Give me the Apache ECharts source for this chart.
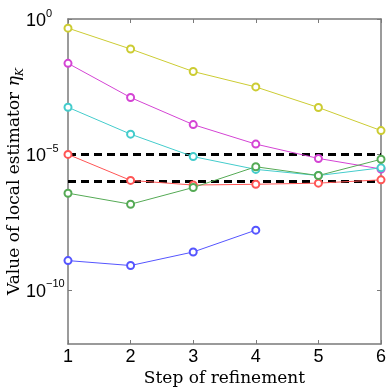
<!DOCTYPE html>
<html>
<head>
<meta charset="utf-8">
<script src="https://cdn.jsdelivr.net/npm/echarts@6/dist/echarts.min.js"></script>
<style>
  html, body { margin: 0; padding: 0; background: #fff; }
  #container { width: 390px; height: 390px; }
</style>
</head>
<body>
<div id="container"></div>
<script>
var steps = [1, 2, 3, 4, 5, 6];
var yellowVals  = [4.6e-1, 7.8e-2, 1.15e-2, 3.1e-3, 5.4e-4, 7.6e-5];
var magentaVals = [2.3e-2, 1.26e-3, 1.26e-4, 2.4e-5, 7.1e-6, 2.9e-6];
var cyanVals    = [5.5e-4, 5.6e-5, 8.3e-6, 2.8e-6, 1.66e-6, 3.2e-6];
var redVals     = [1.0e-5, 1.1e-6, 7.4e-7, 7.9e-7, 8.7e-7, 1.15e-6];
var greenVals   = [3.7e-7, 1.45e-7, 6.0e-7, 3.5e-6, 1.66e-6, 6.6e-6];
var blueVals    = [1.2e-9, 7.9e-10, 2.5e-9, 1.6e-8, null, null];
var upperTol    = [1e-5, 1e-5, 1e-5, 1e-5, 1e-5, 1e-5];
var lowerTol    = [1e-6, 1e-6, 1e-6, 1e-6, 1e-6, 1e-6];
var yTicks = [1e-10, 1e-5, 1];
var yTickLabels = {'1e-10': '\u221210', '0.00001': '\u22125', '1': '0'};

var dom = document.getElementById("container");
var myChart = echarts.init(dom);

function pairs(vals) {
    return steps.map(function (s, i) { return [s, vals[i]]; });
}

function curve(vals, color) {
    return {
        type: 'line',
        data: pairs(vals),
        symbol: 'emptyCircle',
        symbolSize: 7,
        showSymbol: true,
        connectNulls: false,
        lineStyle: { color: color, width: 1 },
        itemStyle: { color: color, borderColor: color, borderWidth: 0.7 },
        emphasis: { disabled: true },
        z: 3
    };
}

function tolLine(vals) {
    return {
        type: 'line',
        data: pairs(vals),
        symbol: 'none',
        lineStyle: { color: '#000', width: 3, type: [8, 5] },
        z: 2
    };
}

var axisGray = '#7a7a7a';
var serif = 'DejaVu Serif';

option = {
    animation: false,
    grid: { left: 68, top: 19, right: 9, bottom: 46, outerBoundsMode: 'none', containLabel: false },
    xAxis: [
        {
            type: 'value', min: 1, max: 6, interval: 1,
            name: 'Step of refinement',
            nameLocation: 'middle',
            nameGap: 26,
            nameMoveOverlap: false,
            nameTextStyle: { fontFamily: serif, fontSize: 17, color: '#000' },
            axisLine: { lineStyle: { color: axisGray, width: 1.5 } },
            axisTick: { inside: true, length: 4, lineStyle: { color: axisGray } },
            axisLabel: { fontFamily: 'Liberation Sans', fontSize: 18, color: '#000', margin: 4 },
            splitLine: { show: false }
        },
        {
            type: 'value', min: 1, max: 6, interval: 1, position: 'top',
            axisLine: { lineStyle: { color: axisGray, width: 1.5 } },
            axisTick: { inside: true, length: 4, lineStyle: { color: axisGray } },
            axisLabel: { show: false },
            splitLine: { show: false }
        }
    ],
    yAxis: [
        {
            type: 'log', logBase: 10, min: 1e-12, max: 1,
            name: '{t|Value of local estimator }{eta|\u03b7}{sub|K}',
            nameLocation: 'middle',
            nameRotate: 90,
            nameGap: 45,
            nameMoveOverlap: false,
            nameTextStyle: {
                color: '#000',
                rich: {
                    t: { fontFamily: serif, fontSize: 17, color: '#000', lineHeight: 22, verticalAlign: 'bottom' },
                    eta: { fontFamily: serif, fontStyle: 'italic', fontSize: 17, color: '#000', lineHeight: 22, verticalAlign: 'bottom' },
                    sub: { fontFamily: serif, fontStyle: 'italic', fontSize: 11, color: '#000', lineHeight: 22, verticalAlign: 'bottom', padding: [0, 0, -3, 0] }
                }
            },
            axisLine: { lineStyle: { color: axisGray, width: 1.5 } },
            axisTick: { inside: true, length: 4, customValues: yTicks, lineStyle: { color: axisGray } },
            axisLabel: {
                customValues: yTicks,
                margin: 42,
                align: 'left',
                formatter: function (v) {
                    var key = String(v);
                    var e = yTickLabels[key];
                    if (e === undefined) e = String(Math.round(Math.log10(v))).replace('-', '\u2212');
                    return '{b|10}{s|' + e + '}';
                },
                rich: {
                    b: { fontFamily: 'Liberation Sans', fontSize: 18, color: '#000', lineHeight: 22, verticalAlign: 'bottom' },
                    s: { fontFamily: 'Liberation Sans', fontSize: 11, color: '#000', lineHeight: 22, verticalAlign: 'top' }
                }
            },
            splitLine: { show: false }
        },
        {
            type: 'log', logBase: 10, min: 1e-12, max: 1, position: 'right',
            axisLine: { lineStyle: { color: axisGray, width: 1.5 } },
            axisTick: { inside: true, length: 4, customValues: yTicks, lineStyle: { color: axisGray } },
            axisLabel: { show: false },
            splitLine: { show: false }
        }
    ],
    series: [
        tolLine(upperTol),
        tolLine(lowerTol),
        curve(yellowVals, '#cccc33'),
        curve(magentaVals, '#d444d4'),
        curve(cyanVals, '#44cccc'),
        curve(redVals, '#ff5555'),
        curve(greenVals, '#55aa55'),
        curve(blueVals, '#5555ff')
    ]
};

if (option && typeof option === "object") {
    myChart.setOption(option, true);
}
</script>
</body>
</html>
